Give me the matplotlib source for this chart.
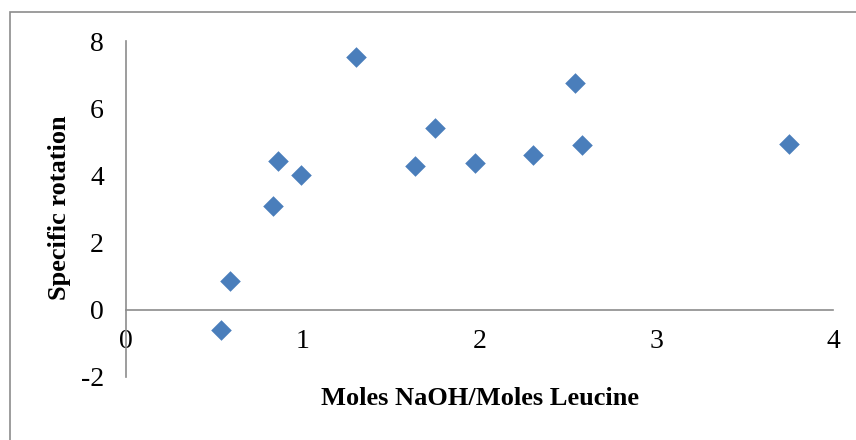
import matplotlib
matplotlib.use("Agg")
import matplotlib.pyplot as plt
from matplotlib.patches import Rectangle

# Data
x_ratio = [0.54, 0.59, 0.83, 0.86, 0.99, 1.30, 1.635, 1.75, 1.975, 2.30, 2.54, 2.58, 3.75]
rotation = [-0.59, 0.87, 3.08, 4.43, 4.01, 7.53, 4.28, 5.41, 4.37, 4.61, 6.76, 4.90, 4.93]
x_ticks = [0, 1, 2, 3, 4]
y_ticks = [-2, 0, 2, 4, 6, 8]

plt.rcParams['font.family'] = ['Liberation Serif', 'DejaVu Serif']

fig = plt.figure(figsize=(8.56, 4.40), dpi=100)
fig.patch.set_facecolor('white')

# outer chart frame
fig.patches.append(Rectangle((9.5/856, -0.05), 1.2, 1 - 11.7/440 + 0.05,
                             transform=fig.transFigure, fill=False,
                             edgecolor='#8c8c8c', linewidth=1.2))

ax = fig.add_axes([126/856, 1 - 377/440, (833.3-126)/856, (377-41.3)/440])
ax.scatter(x_ratio, rotation, marker='D', s=110, color='#4A7EBB', zorder=3,
           linewidths=0)

ax.set_xlim(0, 4)
ax.set_ylim(-2, 8)
ax.set_xticks(x_ticks)
ax.set_yticks(y_ticks)
ax.set_xticklabels([str(v) for v in x_ticks])
ax.set_yticklabels([str(v) for v in y_ticks])

for s in ['top', 'right']:
    ax.spines[s].set_visible(False)
ax.spines['bottom'].set_position(('data', 0))
ax.spines['left'].set_position(('data', 0))
for s in ['bottom', 'left']:
    ax.spines[s].set_color('#8c8c8c')
    ax.spines[s].set_linewidth(1.2)

ax.tick_params(axis='x', length=0, pad=14, labelsize=20)
ax.tick_params(axis='y', length=0, pad=16, labelsize=20)

fig.text(480/856, 1 - 398/440, 'Moles NaOH/Moles Leucine', ha='center', va='center',
         fontsize=19, fontweight='bold')
fig.text(60/856, 1 - 208/440, 'Specific rotation', ha='center', va='center',
         rotation=90, fontsize=19, fontweight='bold')

fig.savefig('out.png', dpi=100, facecolor='white')
